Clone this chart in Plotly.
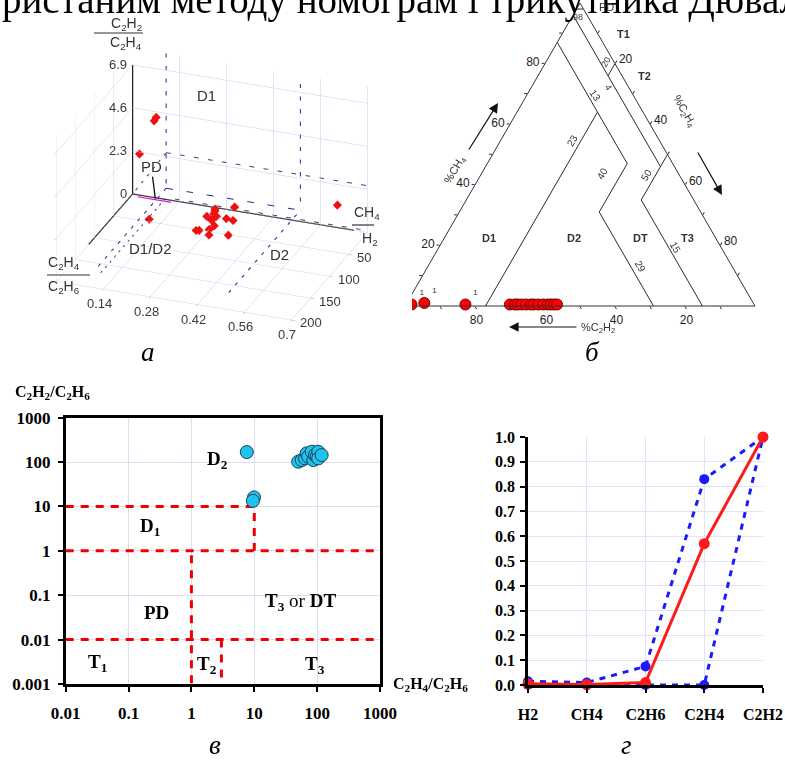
import math
import plotly.graph_objects as go

W, H = 785, 763
def px(x):
    return x / W
def py(y):
    return 1 - y / H

# ---------------- Panel а : 3D nomogram ----------------
# x = CH4/H2, y = C2H4/C2H6, z = C2H2/C2H4
a_ch4_h2 = [3, 12.8, 17.5, 20.5, 0, 18.4, 20, 37, 46, 57, 51, 51, 52, 7, 26.5, 45, 0, 0, 0, 0]
a_c2h4_c2h6 = [0.249, 0.256, 0.27, 0.244, 0.304, 0.30, 0.322, 0.285, 0.28, 0.292, 0.343, 0.256, 0.248, 0.253, 0.265, 0.10, 0.064, 0.07, 0.02, 0.61]
a_c2h2_c2h4 = [0, 0, 0, 0, 0.2, 0, 0, 0, 0, 0, 0, 0, 0, 0, 0, 0, 4.1, 4.3, 2.2, 1.2]

a_x_ticks = [50, 100, 150, 200]
a_y_ticks = [0.14, 0.28, 0.42, 0.56, 0.7]
a_z_ticks = [0, 2.3, 4.6, 6.9]
a_x_range = [0, 200]
a_y_range = [0, 0.7]
a_z_range = [0, 7.8]

# zone boundaries (purple and blue dashed)
zp_x = [0, 0, None, 0, 0, None, 0, 0, None, 0, 180]
zp_y = [0.1, 0.7, None, 0, 0.1, None, 0.1, 0.7, None, 0.1, 0.1]
zp_z = [2.5, 2.5, None, 0, 2.5, None, 0.1, 0.1, None, 0.1, 0.1]
zb_x = [0, 0, None, 0, 0, None, 0, 0, None, 0, 180, None, 0, 200]
zb_y = [0.1, 0.5, None, 0.1, 0.1, None, 0.5, 0.5, None, 0.1, 0.1, None, 0.5, 0.5]
zb_z = [0.6, 0.6, None, 0.6, 7.8, None, 0.6, 7.8, None, 0.6, 0.6, None, 0.6, 0.6]
# PD zone (magenta)
pd_x = [0, 0, None, 4, 4]
pd_y = [0.02, 0.12, None, 0.02, 0.12]
pd_z = [0, 0, None, 0, 0]
# origin axis lines
ax_x = [0, 0, None, 0, 0, None, 0, 115]
ax_y = [0, 0, None, 0, 0.66, None, 0, 0]
ax_z = [0, 6.9, None, 0, 0, None, 0, 0]

# ---------------- Panel б : Duval triangle ----------------
duval_ch4 = [98, 98, None, 96, 46, None, 80, 76, None, 50, 35, 0, None, 87, 47, 31, 0, None, 64, 0]
duval_c2h2 = [2, 0, None, 4, 4, None, 0, 4, None, 0, 15, 15, None, 13, 13, 29, 29, None, 13, 77]
duval_c2h4 = [0, 2, None, 0, 50, None, 20, 20, None, 50, 50, 85, None, 0, 40, 40, 71, None, 23, 23]

pts_ch4 = [0.5, 0.5, 1.0, 0.5, 0.5, 0.5, 0.5, 0.5, 0.5, 0.5, 0.5, 0.5, 0.5, 0.5, 0.5, 0.5, 0.5]
pts_c2h4 = [0.5, 1.6, 5.0, 17.0, 29.7, 31.1, 31.9, 33.0, 34.3, 35.7, 36.5, 37.8, 39.2, 40.5, 41.4, 42.4, 43.2]
pts_c2h2 = [99.0, 97.9, 94.0, 82.5, 69.8, 68.4, 67.6, 66.5, 65.2, 63.8, 63.0, 61.7, 60.3, 59.0, 58.1, 57.1, 56.3]
pts_label = ['', '1', '1', '1', '', '', '', '', '', '', '', '', '', '', '', '', '']

tern_ticks = [10, 20, 30, 40, 50, 60, 70, 80, 90]
tern_text = ['', '20', '', '40', '', '60', '', '80', '']

# ---------------- Panel в : log-log nomogram ----------------
v_x = [7.6, 9.9, 9.5, 50, 57, 64, 68, 72, 82, 87, 92, 98, 104, 104, 118]
v_y = [168, 16, 13.4, 102, 111, 121, 157, 132, 171, 111, 144, 132, 171, 121, 144]
bnd_x = [0.01, 10, 10, None, 0.01, 1000, None, 1, 1, None, 0.01, 1000, None, 3, 3]
bnd_y = [10, 10, 1, None, 1, 1, None, 0.8, 0.001, None, 0.01, 0.01, None, 0.01, 0.001]
v_xticks = [0.01, 0.1, 1, 10, 100, 1000]
v_xtext = ['0.01', '0.1', '1', '10', '100', '1000']
v_yticks = [0.001, 0.01, 0.1, 1, 10, 100, 1000]
v_ytext = ['0.001', '0.01', '0.1', '1', '10', '100', '1000']

# ---------------- Panel г : normalised profiles ----------------
g_gases = ['H2', 'CH4', 'C2H6', 'C2H4', 'C2H2']
g_mean = [0.005, 0.002, 0.01, 0.57, 1.0]
g_upper = [0.015, 0.01, 0.075, 0.83, 1.0]
g_lower = [0.0, 0.0, 0.0, 0.0, 1.0]
g_yticks = [0.0, 0.1, 0.2, 0.3, 0.4, 0.5, 0.6, 0.7, 0.8, 0.9, 1.0]

SANS = 'Liberation Sans, Arial'
SERIF = 'Liberation Serif, Times New Roman'

fig = go.Figure()

# --- 3D traces
fig.add_trace(go.Scatter3d(x=ax_x, y=ax_y, z=ax_z, mode='lines',
                           line=dict(color='#222222', width=2.5), scene='scene', showlegend=False))
fig.add_trace(go.Scatter3d(x=zp_x, y=zp_y, z=zp_z, mode='lines',
                           line=dict(color='#5a3a6a', width=2, dash='dash'), scene='scene', showlegend=False))
fig.add_trace(go.Scatter3d(x=zb_x, y=zb_y, z=zb_z, mode='lines',
                           line=dict(color='#22229a', width=2, dash='dash'), scene='scene', showlegend=False))
fig.add_trace(go.Scatter3d(x=pd_x, y=pd_y, z=pd_z, mode='lines',
                           line=dict(color='#e020e0', width=2.5), scene='scene', showlegend=False))
fig.add_trace(go.Scatter3d(x=a_ch4_h2, y=a_c2h4_c2h6, z=a_c2h2_c2h4, mode='markers',
                           marker=dict(symbol='diamond', size=3, color='#ee1111'),
                           scene='scene', showlegend=False))

# --- ternary traces
fig.add_trace(go.Scatterternary(a=duval_ch4, b=duval_c2h2, c=duval_c2h4, mode='lines',
                                line=dict(color='#2a2a2a', width=1), subplot='ternary',
                                showlegend=False))
fig.add_trace(go.Scatterternary(a=pts_ch4, b=pts_c2h2, c=pts_c2h4, mode='markers+text',
                                text=pts_label, textposition='top right',
                                textfont=dict(family=SANS, size=8, color='#333'),
                                marker=dict(size=11, color='#ff0000', line=dict(color='#7a0000', width=1)),
                                subplot='ternary', cliponaxis=False, showlegend=False))

# --- panel в traces
fig.add_trace(go.Scatter(x=bnd_x, y=bnd_y, mode='lines', xaxis='x3', yaxis='y3',
                         line=dict(color='#ee0000', width=3, dash='8px,7px'), showlegend=False))
fig.add_trace(go.Scatter(x=v_x, y=v_y, mode='markers', xaxis='x3', yaxis='y3',
                         marker=dict(size=13, color='#1ec3ef', line=dict(color='#1d3f55', width=1)),
                         showlegend=False))

# --- panel г traces
fig.add_trace(go.Scatter(x=g_gases, y=g_upper, mode='lines+markers', xaxis='x4', yaxis='y4',
                         line=dict(color='#1a1aff', width=3, dash='6px,6px'),
                         marker=dict(size=10, color='#1a1aff'), cliponaxis=False, showlegend=False))
fig.add_trace(go.Scatter(x=g_gases, y=g_lower, mode='lines+markers', xaxis='x4', yaxis='y4',
                         line=dict(color='#1a1aff', width=3, dash='6px,6px'),
                         marker=dict(size=10, color='#1a1aff'), cliponaxis=False, showlegend=False))
fig.add_trace(go.Scatter(x=g_gases, y=g_mean, mode='lines+markers', xaxis='x4', yaxis='y4',
                         line=dict(color='#ff1a1a', width=3),
                         marker=dict(size=11, color='#ff1a1a'), cliponaxis=False, showlegend=False))

grid3d = '#c9c9f2'
ax3d = dict(showbackground=False, gridcolor=grid3d, gridwidth=1, zeroline=False,
            showspikes=False, showticklabels=False, title=dict(text=''), showline=False,
            ticks='outside', ticklen=4, tickcolor='#999')

lab3d = dict(family=SANS, size=13, color='#3a3a3a')
scene_ann = []
for v in a_z_ticks:
    scene_ann.append(dict(x=a_x_range[0], y=a_y_range[0], z=v, text=('%g' % v), showarrow=False,
                          xanchor='right', xshift=-4, font=lab3d))
for v in a_y_ticks:
    scene_ann.append(dict(x=a_x_range[1], y=v, z=0, text=('%g' % v), showarrow=False,
                          yanchor='top', yshift=-5, xshift=-4, font=lab3d))
for v in a_x_ticks:
    scene_ann.append(dict(x=v, y=a_y_range[1], z=0, text=('%g' % v), showarrow=False,
                          xanchor='left', xshift=7, yshift=-3, font=lab3d))
zl = dict(family=SANS, size=15, color='#333')
scene_ann += [
    dict(x=0, y=0.22, z=5.9, text='D1', showarrow=False, font=zl),
    dict(x=103, y=0.17, z=0, text='D1/D2', showarrow=False, font=zl),
    dict(x=73, y=0.52, z=0, text='D2', showarrow=False, font=zl),
    dict(x=2, y=0.07, z=0, text='PD', showarrow=True, arrowhead=0, arrowwidth=1.3,
         arrowcolor='#111', ax=-4, ay=-32, font=zl),
]

scene = dict(
    domain=dict(x=[px(12), px(412)], y=[py(346), py(22)]),
    xaxis=dict(ax3d, range=a_x_range, tickvals=a_x_ticks),
    yaxis=dict(ax3d, range=a_y_range, tickvals=a_y_ticks),
    zaxis=dict(ax3d, range=a_z_range, tickvals=a_z_ticks),
    aspectmode='manual', aspectratio=dict(x=1.33, y=1.55, z=1.0),
    camera=dict(eye=dict(x=1.685, y=0.636, z=0.868), center=dict(x=0, y=0, z=0),
                up=dict(x=0, y=0, z=1), projection=dict(type='orthographic')),
    bgcolor='white',
    annotations=scene_ann,
)

tern_ax = dict(tickmode='array', tickvals=tern_ticks, ticktext=tern_text, ticks='outside',
               ticklen=3, tickcolor='#333', linecolor='#333', linewidth=1, showgrid=False,
               tickfont=dict(family=SANS, size=12, color='#222'), title=dict(text=''))
ternary = dict(domain=dict(x=[px(405), px(755)], y=[py(306), py(3)]), sum=100, bgcolor='white',
               aaxis=tern_ax, baxis=tern_ax, caxis=tern_ax)

bold_tick = dict(family=SERIF, size=17, color='black', weight='bold')

layout = dict(
    width=W, height=H, margin=dict(l=0, r=0, t=0, b=0, pad=0, autoexpand=False),
    paper_bgcolor='white', plot_bgcolor='white', showlegend=False,
    scene=scene, ternary=ternary,
    xaxis3=dict(domain=[px(65.7), px(380)], anchor='y3', type='log', range=[-2, 3],
                tickvals=v_xticks, ticktext=v_xtext, showline=True, linecolor='black', linewidth=2.5,
                mirror=True, ticks='outside', ticklen=5, tickwidth=2, tickcolor='black',
                gridcolor='#dcdcf3', zeroline=False, tickfont=bold_tick, ticklabelstandoff=7,
                automargin=False),
    yaxis3=dict(domain=[py(684), py(417.7)], anchor='x3', type='log', range=[-3, 3],
                tickvals=v_yticks, ticktext=v_ytext, showline=True, linecolor='black', linewidth=2.5,
                mirror=True, ticks='outside', ticklen=5, tickwidth=2, tickcolor='black',
                gridcolor='#dcdcf3', zeroline=False, tickfont=bold_tick, ticklabelstandoff=4,
                automargin=False),
    xaxis4=dict(domain=[px(528), px(763)], anchor='y4', type='category', range=[0, 4],
                showline=True, linecolor='black', linewidth=2.5, ticks='outside', ticklen=5,
                tickwidth=2, tickcolor='black', gridcolor='#e3e3f7', showgrid=True,
                tickfont=dict(family=SERIF, size=16, color='black', weight='bold'), ticklabelstandoff=8,
                automargin=False),
    yaxis4=dict(domain=[py(685), py(437)], anchor='x4', range=[0, 1.0], tickvals=g_yticks,
                tickformat='.1f', showline=True, linecolor='black', linewidth=2.5, ticks='outside',
                ticklen=5, tickwidth=2, tickcolor='black', gridcolor='#e3e3f7', zeroline=False,
                tickfont=dict(family=SERIF, size=16, color='black', weight='bold'), ticklabelstandoff=2,
                automargin=False),
)

ann = []
def A(x, y, text, size=14, family=SANS, color='#333', xanchor='center', yanchor='middle', angle=0, **kw):
    d = dict(x=px(x), y=py(y), xref='paper', yref='paper', text=text, showarrow=False,
             xanchor=xanchor, yanchor=yanchor, textangle=angle,
             font=dict(family=family, size=size, color=color))
    d['font'].update(kw.pop('font_extra', {}))
    d.update(kw)
    ann.append(d)

# top cut-off caption
A(0, 0, 'ристаним методу номограм і трикутника Дюваля', size=39, family=SERIF, color='black',
  xanchor='left', yanchor='middle')

# panel а axis titles (fractions)
A(126, 24, 'C<sub>2</sub>H<sub>2</sub>', size=14)
A(126, 43, 'C<sub>2</sub>H<sub>4</sub>', size=14)
A(64, 263, 'C<sub>2</sub>H<sub>4</sub>', size=14)
A(64, 287, 'C<sub>2</sub>H<sub>6</sub>', size=14)
A(352, 213, 'CH<sub>4</sub>', size=14, xanchor='left')
A(360, 239, 'H<sub>2</sub>', size=14, xanchor='left')

# panel б labels
bold = dict(weight='bold')
A(597, 7, 'PD', size=11, xanchor='left')
A(578, 17, '98', size=9)
A(623, 34, 'T1', size=11, font_extra=bold)
A(644, 76, 'T2', size=11, font_extra=bold)
A(489, 238, 'D1', size=11, font_extra=bold)
A(574, 238, 'D2', size=11, font_extra=bold)
A(640, 238, 'DT', size=11, font_extra=bold)
A(687, 238, 'T3', size=11, font_extra=bold)
A(595, 96, '13', size=10, angle=55)
A(572, 140, '23', size=10, angle=-60)
A(602, 173, '40', size=10, angle=-60)
A(640, 267, '29', size=10, angle=60)
A(675, 248, '15', size=10, angle=60)
A(647, 175, '50', size=10, angle=-60)
A(608, 87, '4', size=9, angle=60)
A(606, 62, '20', size=9, angle=-60)
A(455, 170, '%CH<sub>4</sub>', size=11, angle=-60)
A(684, 111, '%C<sub>2</sub>H<sub>4</sub>', size=11, angle=60)
A(598, 328, '%C<sub>2</sub>H<sub>2</sub>', size=11)
# arrows in panel б
for (hx, hy, tx, ty) in [(498, 103, 468, 151), (722, 195, 697, 151), (509, 327, 578, 327)]:
    ann.append(dict(x=px(hx), y=py(hy), xref='paper', yref='paper', ax=tx - hx, ay=ty - hy,
                    axref='pixel', ayref='pixel', text='', showarrow=True, arrowhead=2,
                    arrowsize=1.6, arrowwidth=1.2, arrowcolor='#111'))

# panel letters
for (x, y, t) in [(148, 352, 'а'), (592, 352, 'б'), (215, 745, 'в'), (626, 745, 'г')]:
    A(x, y, t, size=27, family=SERIF, color='black', font_extra=dict(style='italic'))

# panel в axis titles
A(52, 392, 'C<sub>2</sub>H<sub>2</sub>/C<sub>2</sub>H<sub>6</sub>', size=16, family=SERIF, color='black',
  font_extra=bold)
A(430, 684, 'C<sub>2</sub>H<sub>4</sub>/C<sub>2</sub>H<sub>6</sub>', size=16, family=SERIF, color='black',
  font_extra=bold)

# panel в zone labels (data coords, log10 for log axes)
zone_lbl = [(2.6, 112, 'D<sub>2</sub>'), (0.22, 3.5, 'D<sub>1</sub>'), (0.28, 0.04, 'PD'),
            (54, 0.07, 'T<sub>3</sub> <span style="font-weight:normal">or</span> DT'),
            (0.032, 0.003, 'T<sub>1</sub>'), (1.8, 0.0027, 'T<sub>2</sub>'), (93, 0.0027, 'T<sub>3</sub>')]
for (x, y, t) in zone_lbl:
    ann.append(dict(x=math.log10(x), y=math.log10(y), xref='x3', yref='y3', text=t, showarrow=False,
                    font=dict(family=SERIF, size=19, color='black', weight='bold')))

layout['annotations'] = ann

# fraction bars
shapes = []
for (x0, x1, y) in [(94, 143, 33), (47, 90, 275), (352, 374, 225)]:
    shapes.append(dict(type='line', xref='paper', yref='paper', x0=px(x0), x1=px(x1), y0=py(y), y1=py(y),
                       line=dict(color='#333', width=1.2)))
layout['shapes'] = shapes

fig.update_layout(**layout)
fig.write_html('out.html', config={'displayModeBar': False},
               post_script="document.body.style.margin='0px';")
